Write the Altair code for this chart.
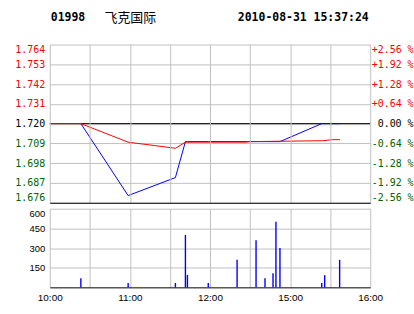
import altair as alt
import pandas as pd

CODE = "01998"
NAME = "飞克国际"
STAMP = "2010-08-31 15:37:24"

# trading minutes since 10:00 (lunch break removed: 150 = 12:30 / 14:30, 240 = 16:00)
trade_t = [23.3, 58.7, 94.1, 101.6, 103.1, 118.7, 140.3, 154.5, 161.2, 167.2, 169.4, 172.4, 203.7, 205.9, 217.1]
trade_price = [1.72, 1.68, 1.69, 1.71, 1.71, 1.71, 1.71, 1.71, 1.71, 1.71, 1.71, 1.71, 1.72, 1.72, 1.72]
trade_vol = [70, 33, 33, 400, 95, 33, 210, 360, 70, 108, 500, 300, 33, 93, 210]

avg_t = [0, 23.3, 58.7, 94.1, 101.6, 147.0, 150.0, 204.5, 211.9, 217.4]
avg_price = [1.72, 1.72, 1.7097, 1.7063, 1.7097, 1.7097, 1.7100, 1.7105, 1.7111, 1.7111]

prev_close = 1.72
price_ticks = [1.676, 1.687, 1.698, 1.709, 1.720, 1.731, 1.742, 1.753, 1.764]
pct_ticks = [-2.56, -1.92, -1.28, -0.64, 0.0, 0.64, 1.28, 1.92, 2.56]
vol_ticks = [150, 300, 450, 600]
time_ticks = [0, 30, 60, 90, 120, 150, 180, 210, 240]
time_labels = ["10:00", "", "11:00", "", "12:00", "", "15:00", "", "16:00"]

GRID = "#c0c0c0"
RED = "#ff0000"
GREEN = "#006400"
MONO = "DejaVu Sans Mono"
SANS = "Liberation Sans"

trades = pd.DataFrame({"t": trade_t, "price": trade_price, "vol": trade_vol})
avg = pd.DataFrame({"t": avg_t, "avg": avg_price})

time_expr = "''"
for v, lab in zip(time_ticks, time_labels):
    time_expr = f"datum.value == {v} ? '{lab}' : ({time_expr})"

xscale = alt.Scale(domain=[0, 240], nice=False, zero=False)
pscale = alt.Scale(domain=[price_ticks[0], price_ticks[-1]], nice=False, zero=False)

x_price_axis = alt.Axis(values=time_ticks, labels=False, ticks=False, title=None,
                        domain=True, domainColor="#000000", domainWidth=1,
                        grid=True, gridColor=GRID, gridWidth=1, zindex=1)

left_axis = alt.Axis(values=price_ticks, title=None, ticks=False, domain=False,
                     grid=True, gridColor=GRID, gridWidth=1,
                     labelFont=MONO, labelFontSize=10, labelPadding=5, labelFlush=True,
                     labelExpr="format(datum.value, '.3f')",
                     labelColor={"condition": [
                         {"test": f"datum.value > {prev_close + 0.0001}", "value": RED},
                         {"test": f"datum.value < {prev_close - 0.0001}", "value": GREEN}],
                         "value": "#000000"})

right_axis = alt.Axis(values=pct_ticks, title=None, ticks=False, domain=False, grid=False,
                      orient="right", labelFont=MONO, labelFontSize=10,
                      labelPadding={"condition": {"test": "abs(datum.value) < 0.001", "value": 7},
                                    "value": 1},
                      labelFlush=True, labelAlign="left",
                      labelExpr="datum.value > 0.001 ? '+' + format(datum.value, '.2f') + ' %' : "
                                "(datum.value < -0.001 ? '-' + format(abs(datum.value), '.2f') + ' %' : "
                                "format(0, '.2f') + ' %')",
                      labelColor={"condition": [
                          {"test": "datum.value > 0.001", "value": RED},
                          {"test": "datum.value < -0.001", "value": GREEN}],
                          "value": "#000000"})

one = alt.Data(values=[{"a": 1}])

ref_rule = alt.Chart(one).mark_rule(color="#000000", strokeWidth=1).encode(
    y=alt.Y("z:Q", scale=alt.Scale(domain=[pct_ticks[0], pct_ticks[-1]], nice=False, zero=False),
            axis=right_axis)
).transform_calculate(z="0")

price_line = alt.Chart(trades).mark_line(color="#0000ff", strokeWidth=1, interpolate="linear").encode(
    x=alt.X("t:Q", scale=xscale, axis=x_price_axis),
    y=alt.Y("price:Q", scale=pscale, axis=left_axis),
)

avg_line = alt.Chart(avg).mark_line(color=RED, strokeWidth=1, interpolate="linear").encode(
    x=alt.X("t:Q", scale=xscale, axis=x_price_axis),
    y=alt.Y("avg:Q", scale=pscale, axis=left_axis),
)

t_code = alt.Chart(one).mark_text(text=CODE, font=MONO, fontWeight="bold", fontSize=11.5,
                                  align="left", baseline="middle", color="#000000").encode(
    x=alt.value(1), y=alt.value(-27))
t_name = alt.Chart(one).mark_text(text=NAME, font="Noto Sans CJK SC", fontSize=13,
                                  align="left", baseline="middle", color="#000000").encode(
    x=alt.value(55), y=alt.value(-27))
t_stamp = alt.Chart(one).mark_text(text=STAMP, font=MONO, fontWeight="bold", fontSize=11.5,
                                   align="left", baseline="middle", color="#000000").encode(
    x=alt.value(189), y=alt.value(-27))

price_price = alt.layer(price_line, avg_line).resolve_scale(y="shared")
price_chart = alt.layer(ref_rule, price_price, t_code, t_name, t_stamp).resolve_scale(
    y="independent").properties(width=322, height=159)

vol_chart = alt.Chart(trades).mark_rule(color="#0000ff", strokeWidth=1.4).encode(
    x=alt.X("t:Q", scale=xscale,
            axis=alt.Axis(values=time_ticks, title=None, ticks=False, domain=True,
                          domainColor="#000000", domainWidth=1, grid=True, gridColor=GRID,
                          labelFont=SANS, labelFontSize=10, labelColor="#000000",
                          labelPadding=5, labelFlush=False, labelExpr=time_expr, zindex=1)),
    y=alt.Y("vol:Q", scale=alt.Scale(domain=[0, vol_ticks[-1]], nice=False),
            axis=alt.Axis(values=vol_ticks, title=None, ticks=False, domain=False,
                          grid=True, gridColor=GRID, labelFont=SANS, labelFontSize=9.5,
                          labelColor="#000000", labelPadding=5, labelFlush=True)),
    y2=alt.datum(0),
).properties(width=322, height=79)

chart = alt.vconcat(price_chart, vol_chart, spacing=6, bounds="flush").properties(
    padding={"left": 14, "top": 10, "right": 0, "bottom": 0},
    background="#ffffff",
).configure_view(stroke="transparent")

chart.save("out.html", embed_options={"renderer": "svg", "actions": False})
